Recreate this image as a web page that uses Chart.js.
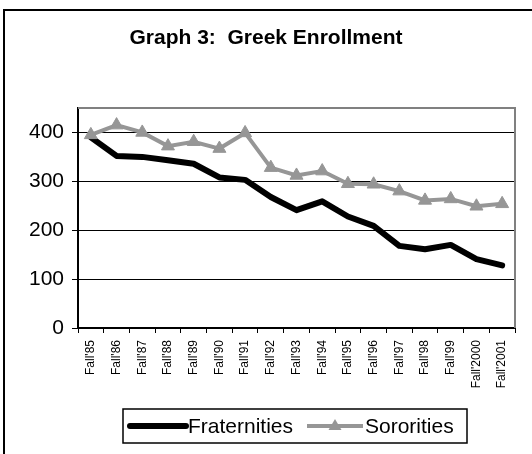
<!DOCTYPE html>
<html>
<head>
<meta charset="utf-8">
<title>Greek Enrollment</title>
<script src="https://cdn.jsdelivr.net/npm/chart.js@4/dist/chart.umd.min.js"></script>
<style>
  html, body { margin: 0; padding: 0; background: #ffffff; overflow: hidden; }
  canvas { display: block; }
</style>
</head>
<body>
<canvas id="chart" width="532" height="454"></canvas>
<script>
// Enrollment by fall term
const categories = ["Fall'85", "Fall'86", "Fall'87", "Fall'88", "Fall'89", "Fall'90", "Fall'91",
  "Fall'92", "Fall'93", "Fall'94", "Fall'95", "Fall'96", "Fall'97", "Fall'98", "Fall'99",
  "Fall'2000", "Fall'2001"];
const fraternities = [390, 352, 350, 343, 336, 308, 303, 268, 241, 259, 228, 209, 168, 161, 170, 141, 128];
const sororities = [395, 415, 400, 372, 381, 367, 399, 328, 312, 321, 295, 294, 280, 261, 264, 249, 254];
const yTicks = [0, 100, 200, 300, 400];
const titleText = "Graph 3:  Greek Enrollment";

const FONT = "'Liberation Sans', Arial, Helvetica, sans-serif";
const SOR_GRAY = '#969696';

// Page frame, plot frame, title and boxed legend
const framePlugin = {
  id: 'frame',
  beforeDraw(chart) {
    const ctx = chart.ctx;
    ctx.save();
    ctx.fillStyle = '#ffffff';
    ctx.fillRect(0, 0, chart.width, chart.height);
    ctx.strokeStyle = '#000000';
    ctx.lineWidth = 2;
    ctx.strokeRect(4, 10, chart.width + 20, chart.height + 20);
    ctx.restore();
  },
  beforeDatasetsDraw(chart) {
    const { ctx, chartArea: a } = chart;
    ctx.save();
    ctx.strokeStyle = '#808080';
    ctx.lineWidth = 2;
    ctx.beginPath();
    ctx.moveTo(a.left, a.top);
    ctx.lineTo(a.right, a.top);
    ctx.lineTo(a.right, a.bottom);
    ctx.stroke();
    ctx.restore();
  },
  afterDraw(chart) {
    const ctx = chart.ctx;
    ctx.save();
    // title
    ctx.fillStyle = '#000000';
    ctx.font = 'bold 21px ' + FONT;
    ctx.textAlign = 'center';
    ctx.textBaseline = 'middle';
    ctx.fillText(titleText, 266, 38);

    // legend
    const ds = chart.data.datasets;
    const box = { x: 123, y: 409, w: 344, h: 34 };
    const cy = box.y + box.h / 2;
    ctx.strokeStyle = '#000000';
    ctx.lineWidth = 1.5;
    ctx.strokeRect(box.x, box.y, box.w, box.h);
    ctx.font = '21px ' + FONT;
    ctx.textAlign = 'left';

    // fraternities swatch
    ctx.strokeStyle = ds[0].borderColor;
    ctx.lineWidth = 6;
    ctx.lineCap = 'round';
    ctx.beginPath();
    ctx.moveTo(130, cy);
    ctx.lineTo(186, cy);
    ctx.stroke();
    ctx.fillStyle = '#000000';
    ctx.fillText(ds[0].label, 188, cy + 1);

    // sororities swatch
    ctx.strokeStyle = ds[1].borderColor;
    ctx.lineWidth = 4;
    ctx.lineCap = 'butt';
    ctx.beginPath();
    ctx.moveTo(307, cy);
    ctx.lineTo(363, cy);
    ctx.stroke();
    ctx.fillStyle = ds[1].pointBackgroundColor;
    ctx.beginPath();
    ctx.moveTo(335, cy - 7);
    ctx.lineTo(341.5, cy + 4);
    ctx.lineTo(328.5, cy + 4);
    ctx.closePath();
    ctx.fill();
    ctx.fillStyle = '#000000';
    ctx.fillText(ds[1].label, 365, cy + 1);
    ctx.restore();
  }
};

new Chart(document.getElementById('chart'), {
  type: 'line',
  data: {
    labels: categories,
    datasets: [
      {
        label: 'Fraternities',
        data: fraternities,
        borderColor: '#000000',
        backgroundColor: '#000000',
        borderWidth: 6,
        pointRadius: 0,
        tension: 0,
        borderJoinStyle: 'round',
        borderCapStyle: 'round',
        order: 1
      },
      {
        label: 'Sororities',
        data: sororities,
        borderColor: SOR_GRAY,
        backgroundColor: SOR_GRAY,
        borderWidth: 4,
        pointStyle: 'triangle',
        pointRadius: 7.5,
        pointBackgroundColor: SOR_GRAY,
        pointBorderColor: SOR_GRAY,
        pointBorderWidth: 1,
        tension: 0,
        order: 0
      }
    ]
  },
  options: {
    responsive: false,
    animation: false,
    devicePixelRatio: 1,
    layout: { padding: { left: 0, top: 108, right: 17, bottom: 0 } },
    plugins: {
      legend: { display: false },
      title: { display: false },
      tooltip: { enabled: false }
    },
    scales: {
      x: {
        type: 'category',
        offset: true,
        grid: {
          offset: true,
          drawOnChartArea: false,
          drawTicks: true,
          tickLength: 5,
          tickColor: '#000000',
          tickWidth: 1
        },
        border: { display: true, color: '#000000', width: 2 },
        ticks: {
          autoSkip: false,
          minRotation: 90,
          maxRotation: 90,
          padding: 7,
          color: '#000000',
          font: { family: FONT, size: 12 }
        },
        afterFit(scale) { scale.height = 126; }
      },
      y: {
        min: 0,
        max: 450,
        afterBuildTicks(scale) { scale.ticks = yTicks.map(v => ({ value: v })); },
        grid: {
          color: '#000000',
          lineWidth: 1,
          drawTicks: true,
          tickLength: 6,
          tickColor: '#000000'
        },
        border: { display: true, color: '#000000', width: 2 },
        ticks: {
          padding: 8,
          color: '#000000',
          font: { family: FONT, size: 21 }
        },
        afterFit(scale) { scale.width = 78; }
      }
    }
  },
  plugins: [framePlugin]
});
</script>
</body>
</html>
